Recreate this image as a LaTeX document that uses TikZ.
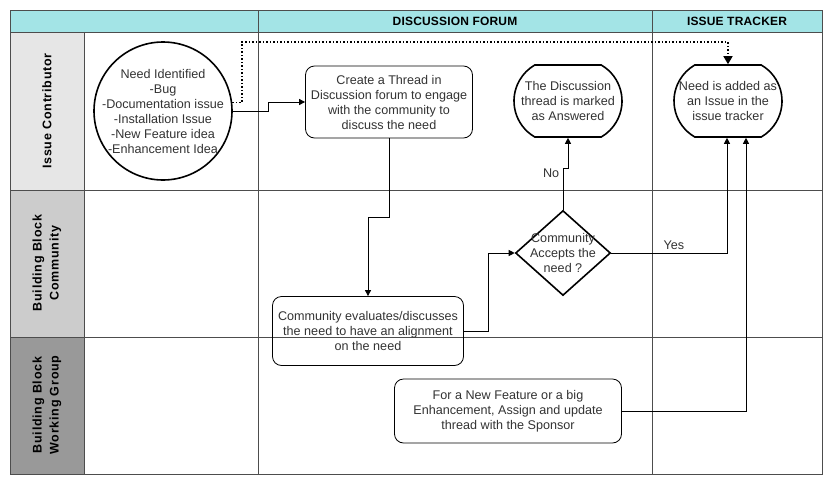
\documentclass[tikz,border=0pt]{standalone}
\usepackage{fontspec}
\setmainfont{Liberation Sans}
\newfontfamily\lanefam[LetterSpace=6]{Liberation Sans}
\newfontfamily\headfam[LetterSpace=1.5]{Liberation Sans}
\usetikzlibrary{shapes.geometric, shapes.misc, arrows.meta, positioning, calc}
\definecolor{HeadTeal}{HTML}{A3E4E6}
\definecolor{LaneLight}{HTML}{E6E6E6}
\definecolor{LaneMid}{HTML}{CCCCCC}
\definecolor{LaneDark}{HTML}{999999}
\definecolor{GridGray}{HTML}{4D4D4D}
\definecolor{TextGray}{HTML}{333333}
\newcommand{\lanefont}{\lanefam\fontsize{12.5}{17}\selectfont\bfseries}
\newcommand{\headfont}{\headfam\fontsize{12}{15}\selectfont\bfseries}

\begin{document}
\begin{tikzpicture}[
    x=1pt, y=-1pt,
    txt/.style={font=\fontsize{12.6}{15}\selectfont, text=TextGray, align=center},
    proc/.style={txt, rectangle, draw, rounded corners=9pt, inner sep=1pt, line width=0.8pt},
    term/.style={rounded rectangle, rounded rectangle arc length=120, draw,
                 line width=1.6pt, minimum width=108pt, minimum height=72pt, inner sep=0pt},
    flow/.style={-{Triangle[length=6pt,width=6pt]}, line width=0.9pt},
    lanehead/.style={font=\lanefont, text=black, align=center},
    colhead/.style={font=\headfont, text=black},
    laneline/.style={GridGray, line width=1pt}
]
    % Page and swimlane frame
    \fill[white] (0,0) rectangle (830,485);
    \useasboundingbox (0,0) rectangle (830,485);
    \fill[HeadTeal] (10,10) rectangle (822,32);
    \fill[LaneLight] (10,32) rectangle (84,190);
    \fill[LaneMid] (10,190) rectangle (84,337);
    \fill[LaneDark] (10,337) rectangle (84,474);
    \foreach \y in {32,190,337} \draw[laneline] (10,\y) -- (822,\y);
    \foreach \x in {258,652} \draw[laneline] (\x,10) -- (\x,474);
    \draw[laneline] (84,32) -- (84,474);
    \draw[laneline] (10,10) rectangle (822,474);

    % Lane titles
    \node[colhead] (forum) at (455,21) {DISCUSSION FORUM};
    \node[colhead] (tracker) at (737,21) {ISSUE TRACKER};
    \node[lanehead, rotate=90] (contrib) at (47,111) {Issue Contributor};
    \node[lanehead, rotate=90] (community) at (47,263) {Building Block\\Community};
    \node[lanehead, rotate=90] (group) at (47,405) {Building Block\\Working Group};

    % Issue contributor
    \node[circle, draw, line width=1.6pt, minimum size=138pt, inner sep=0pt,
          label={[txt]center:{Need Identified\\-Bug\\-Documentation issue\\-Installation Issue\\-New Feature idea\\-Enhancement Idea}}]
          (need) at (163,111) {};

    % Discussion forum
    \node[proc, minimum width=167pt, minimum height=72pt] (thread) at (389,102)
        {Create a Thread in\\Discussion forum to engage\\with the community to\\discuss the need};
    \node[term, label={[txt]center:{The Discussion\\thread is marked\\as Answered}}] (answered) at (568,101) {};
    \node[proc, minimum width=191pt, minimum height=69pt] (evaluate) at (368,331)
        {Community evaluates/discusses\\the need to have an alignment\\on the need};
    \node[diamond, draw, line width=1.6pt, minimum width=95pt, minimum height=85pt, inner sep=0pt,
          label={[txt]center:{Community\\Accepts the\\need ?}}] (decide) at (563,253) {};
    \node[proc, minimum width=227pt, minimum height=64pt] (sponsor) at (508,411)
        {For a New Feature or a big\\Enhancement, Assign and update\\thread with the Sponsor};

    % Issue tracker
    \node[term, label={[txt]center:{Need is added as\\an Issue in the\\issue tracker}}] (added) at (728,101) {};

    % Connectors
    \coordinate (loop) at (242,42);
    \draw[dotted, line width=1.5pt, -{Triangle[length=8pt,width=9pt]}] (need.7.5) -| (loop) -| (added.north);
    \draw[flow] (need.east) -- ++(36,0) |- (thread.west);
    \draw[flow] (thread.south) -- ++(0,79) -| (evaluate.north);
    \draw[flow] (evaluate.east) -- ++(25,0) |- (decide.west);
    \draw[flow] (decide.north) -- ++(0,-41) node[txt, left, pos=0.9] {No} -| (answered.south);
    \draw[flow] (decide.east) -| node[txt, above, pos=0.27] {Yes} ([xshift=-1pt]added.south);
    \draw[flow] (sponsor.east) -| ([xshift=18pt]added.south);
\end{tikzpicture}
\end{document}
